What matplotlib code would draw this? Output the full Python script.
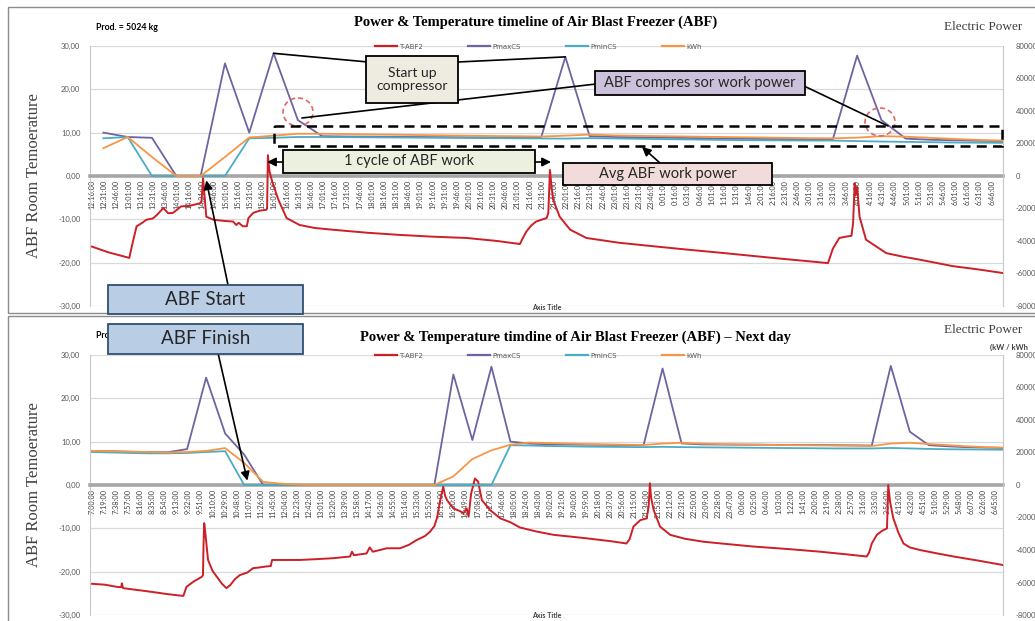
import matplotlib
matplotlib.use('Agg')
import matplotlib.pyplot as plt
from matplotlib.patches import Rectangle, Ellipse
from matplotlib.lines import Line2D

W, H = 1035, 621

# ---------- first day (top chart), time in minutes after 12:16 ----------
top_temp_min = [0, 20, 40, 46, 50, 55, 62, 67, 75, 80, 88, 94, 100, 110, 120, 133, 135, 137, 139,
                141, 150, 165, 174, 178, 181, 186, 191, 193, 199, 207, 215, 216, 217, 219, 223,
                230, 240, 256, 275, 297, 340, 380, 420, 462, 500, 528, 531, 536, 542, 548, 556,
                561, 563, 565, 567, 569, 577, 590, 610, 650, 692, 735, 775, 840, 880, 908, 911,
                914, 922, 930, 937, 939, 941, 942, 944, 947, 955, 980, 1000, 1021, 1062, 1095, 1124]
top_temp = [-16.3, -17.6, -18.6, -18.9, -15.5, -11.6, -10.8, -10.1, -9.8, -9.0, -7.4, -8.6, -8.5,
            -7.0, -6.9, -6.3, -6.0, -0.5, -5.0, -9.4, -10.1, -10.4, -10.5, -11.3, -10.8, -11.6,
            -11.6, -9.7, -8.5, -8.0, -7.8, -7.5, 4.8, 1.0, -1.7, -5.5, -9.7, -11.3, -12.0, -12.4,
            -13.1, -13.6, -14.0, -14.3, -15.0, -15.7, -14.5, -12.8, -11.4, -10.5, -10.0, -9.7,
            -8.5, 1.4, -2.5, -5.5, -9.4, -12.4, -14.3, -15.4, -16.2, -17.0, -17.7, -18.9, -19.6,
            -20.1, -18.5, -16.8, -14.3, -14.0, -13.8, -11.0, -1.7, -4.5, -2.5, -9.4, -14.7, -17.8,
            -18.6, -19.3, -20.8, -21.6, -22.4]
# half-hourly compressor readings (W), first at 12:30
top_pmax = [26700, 24000, 23500, 0, 0, 69300, 26700, 75500, 34400, 24500, 24300, 24200, 24100,
            24000, 23900, 23800, 23700, 23600, 23500, 73300, 24500, 24000, 23800, 23600, 23400,
            23200, 23000, 22800, 22700, 22600, 22500, 74100, 34400, 23000, 22300, 22000, 21700, 21500]
top_pmin = [23200, 24000, 0, 0, 0, 0, 23200, 23500, 24000, 24000, 23900, 23800, 23700, 23600,
            23500, 23400, 23300, 23200, 23100, 23000, 23300, 23100, 22900, 22700, 22500, 22300,
            22100, 22000, 21900, 21800, 21800, 21500, 21200, 21000, 20800, 20600, 20500, 20400]
top_kwh = [17100, 24000, 11700, 0, 0, 11700, 23700, 24800, 26000, 26000, 25800, 25600, 25400,
           25200, 25000, 24800, 24600, 24500, 24300, 24800, 25500, 25000, 24700, 24500, 24300,
           24100, 23900, 23700, 23500, 23300, 23200, 23600, 24500, 24200, 23500, 22800, 22200, 21800]

# ---------- next day (bottom chart), time in minutes after 7:00 ----------
bot_temp_min = [0, 20, 39, 46, 47, 49, 70, 91, 120, 144, 149, 160, 173, 175, 176, 177, 179, 183,
                190, 197, 205, 212, 218, 225, 233, 245, 254, 265, 275, 282, 284, 300, 328, 355,
                380, 407, 410, 413, 433, 438, 443, 465, 486, 500, 512, 525, 533, 540, 544, 550,
                554, 557, 560, 570, 580, 586, 591, 594, 598, 604, 609, 615, 628, 644, 660, 675,
                700, 728, 780, 820, 843, 848, 854, 865, 875, 878, 880, 882, 886, 896, 912, 935,
                965, 1000, 1043, 1100, 1149, 1190, 1222, 1226, 1230, 1238, 1246, 1254, 1256, 1259,
                1264, 1272, 1280, 1290, 1306, 1330, 1359, 1400, 1438]
bot_temp = [-22.8, -23.0, -23.5, -23.6, -22.7, -23.8, -24.2, -24.6, -25.2, -25.6, -23.5, -22.3,
            -21.2, -20.8, -13.1, -8.8, -11.5, -17.3, -19.8, -21.2, -22.8, -23.8, -23.1, -21.8,
            -20.8, -20.2, -19.2, -19.0, -18.8, -18.7, -17.3, -17.3, -17.3, -17.1, -16.9, -16.5,
            -15.4, -16.2, -15.8, -14.4, -15.4, -14.6, -14.6, -13.8, -12.7, -11.8, -10.8, -9.5,
            -7.7, -3.0, -0.4, -2.5, -3.5, -5.4, -6.0, -6.5, -5.4, -7.3, -2.0, 1.5, 0.8, -3.5,
            -5.8, -7.7, -8.6, -9.8, -10.7, -11.5, -12.3, -13.0, -13.5, -12.5, -9.6, -8.1, -7.7,
            -5.0, 0.4, -3.0, -5.8, -9.6, -11.5, -12.4, -13.1, -13.6, -14.2, -14.8, -15.4, -16.0,
            -16.5, -15.5, -13.5, -11.5, -10.6, -10.0, 0.0, -4.0, -7.7, -11.0, -13.5, -14.4,
            -15.0, -15.7, -16.5, -17.5, -18.5]
# half-hourly compressor readings (W), first at 7:00
bot_pmax = [20800, 20800, 20500, 20300, 20200, 22100, 66100, 31700, 18700, 0, 0, 0, 0, 0, 0, 0,
            0, 0, 0, 68000, 27700, 72800, 26700, 25500, 25000, 24900, 24800, 24700, 24600, 24500,
            71700, 25600, 25000, 24900, 24800, 24800, 24700, 24600, 24600, 24500, 24400, 24300,
            73300, 32800, 24500, 23800, 23300, 23000, 22800]
bot_pmin = [20300, 20000, 19700, 19500, 19500, 19700, 20300, 20800, 0, 0, 0, 0, 0, 0, 0, 0, 0,
            0, 0, 0, 0, 0, 24500, 24300, 24000, 23800, 23600, 23500, 23400, 23300, 23500, 23300,
            23200, 23100, 23000, 22900, 22800, 22700, 22600, 22500, 22500, 22500, 22800, 22500,
            22200, 22000, 21900, 21800, 21700]
bot_kwh = [21000, 20800, 20500, 20300, 20000, 20300, 21000, 22700, 13600, 1900, 800, 200, 0, 0,
           0, 0, 0, 0, 0, 5300, 16000, 21300, 24800, 26100, 25800, 25500, 25200, 25000, 24800,
           24600, 25500, 26000, 25500, 25200, 25000, 24800, 24600, 24500, 24400, 24300, 24200,
           24000, 25500, 26000, 25200, 24500, 23800, 23300, 23000]


def clock_labels(h0, m0, step, n):
    out = []
    for i in range(n):
        t = h0 * 60 + m0 + step * i
        out.append('%d:%02d:00' % ((t // 60) % 24, t % 60))
    return out

top_labels = clock_labels(12, 16, 15, 75)
bot_labels = clock_labels(7, 0, 19, 76)

C_T = '#cc1f27'
C_MAX = '#6f64a0'
C_MIN = '#4bacc6'
C_KWH = '#f79646'
GRID = '#d9d9d9'
TXT = '#595959'

fig = plt.figure(figsize=(W / 100, H / 100), dpi=100)


def px_axes(x0, y0, x1, y1):
    return fig.add_axes([x0 / W, 1 - y1 / H, (x1 - x0) / W, (y1 - y0) / H])


def make_panel(box, xlim, step, labels, tmin, temp, p0, pmax, pmin, kwh):
    ax = px_axes(*box)
    ax.set_xlim(*xlim)
    ax.set_ylim(-30, 30)
    ax.set_yticks(range(-30, 31, 10))
    ax.set_yticklabels(['%d,00' % v for v in range(-30, 31, 10)])
    ax.yaxis.grid(True, color=GRID, lw=0.9)
    ax.set_axisbelow(True)
    for s in ['top', 'right']:
        ax.spines[s].set_visible(False)
    ax.spines['left'].set_color('#c8c8c8')
    ax.spines['bottom'].set_position(('data', 0))
    ax.spines['bottom'].set_color('#a6a6a6')
    ax.spines['bottom'].set_linewidth(2.6)
    ax.set_xticks([step * i for i in range(len(labels))])
    ax.set_xticklabels(labels, rotation=90, fontsize=5.2, color='#404040', family='Lato')
    ax.tick_params(axis='x', length=0, pad=3)
    ax.tick_params(axis='y', length=0, labelsize=5.5, labelcolor=TXT, pad=7)
    for t in ax.get_yticklabels():
        t.set_family('Lato')
    ax.set_ylabel('ABF Room Temoerature', family='Liberation Serif', fontsize=12, color='#404040')
    ax.yaxis.set_label_coords(-48 / 913, 0.5)
    ax.plot(tmin, temp, color=C_T, lw=1.4, zorder=3, label='T-ABF2')

    axr = ax.twinx()
    axr.set_ylim(-80000, 80000)
    axr.set_yticks(range(-80000, 80001, 20000))
    axr.set_yticklabels([str(v) for v in range(-80000, 80001, 20000)], family='Lato')
    axr.tick_params(axis='y', length=0, labelsize=5.5, labelcolor=TXT, pad=9)
    for s in ['top', 'left', 'bottom']:
        axr.spines[s].set_visible(False)
    axr.spines['right'].set_color('#c8c8c8')
    px = [p0 + 30 * k for k in range(len(pmax))]
    axr.plot(px, pmax, color=C_MAX, lw=1.3, label='PmaxCS')
    axr.plot(px, pmin, color=C_MIN, lw=1.3, label='PminCS')
    axr.plot(px, kwh, color=C_KWH, lw=1.3, label='kWh')

    handles = [Line2D([], [], color=c, lw=1.6) for c in (C_T, C_MAX, C_MIN, C_KWH)]
    leg = axr.legend(handles, ['T-ABF2', 'PmaxCS', 'PminCS', 'kWh'], ncol=4, loc='upper left',
                     bbox_to_anchor=((372 - 90) / 913, 1.02), frameon=False, fontsize=5,
                     handlelength=3.2, handletextpad=0.3, columnspacing=6.5, borderaxespad=0)
    for t in leg.get_texts():
        t.set_color(TXT)
    return ax, axr


ax_t, axr_t = make_panel((90, 46, 1003, 306), (-2.5, 1124), 15, top_labels,
                         top_temp_min, top_temp, 14, top_pmax, top_pmin, top_kwh)
ax_b, axr_b = make_panel((90, 355, 1003, 615), (-3.2, 1437), 19, bot_labels,
                         bot_temp_min, bot_temp, 0, bot_pmax, bot_pmin, bot_kwh)

# ---------- overlay in pixel coordinates for titles and call-outs ----------
ov = fig.add_axes([0, 0, 1, 1], zorder=20)
ov.set_xlim(0, W)
ov.set_ylim(H, 0)
ov.axis('off')
ov.patch.set_alpha(0)

ov.add_patch(Rectangle((8, 7), 1040, 306, fill=False, ec='#8c8c8c', lw=1))
ov.add_patch(Rectangle((8, 316), 1040, 320, fill=False, ec='#8c8c8c', lw=1))

ov.text(96, 28, 'Prod. = 5024 kg', fontsize=6.3, weight='bold', family='Lato', va='center', zorder=1)
ov.text(96, 336, 'Prod. = 5024 kg', fontsize=6.3, weight='bold', family='Lato', va='center', zorder=1)
ov.text(536, 22, 'Power & Temperature timeline of Air Blast Freezer (ABF)', fontsize=10.5,
        weight='bold', family='Liberation Serif', ha='center', va='center')
ov.text(576, 337, 'Power & Temperature timdine of Air Blast Freezer (ABF) \u2013 Next day',
        fontsize=10.5, weight='bold', family='Liberation Serif', ha='center', va='center')
ov.text(944, 27, 'Electric Power', fontsize=9.5, family='Liberation Serif', color='#404040', va='center')
ov.text(944, 330, 'Electric Power', fontsize=9.5, family='Liberation Serif', color='#404040', va='center')
ov.text(990, 347, '(kW / kWh', fontsize=5.5, weight='bold', family='Lato', color='#404040', va='center')
ov.text(547, 308, 'Axis Title', fontsize=5, weight='bold', family='Lato', color='#404040', ha='center', va='center')
ov.text(547, 616, 'Axis Title', fontsize=5, weight='bold', family='Lato', color='#404040', ha='center', va='center')


def box(x0, y0, x1, y1, text, fc, fs, ec='black'):
    ov.add_patch(Rectangle((x0, y0), x1 - x0, y1 - y0, fc=fc, ec=ec, lw=1.3, zorder=5))
    ov.text((x0 + x1) / 2, (y0 + y1) / 2, text, ha='center', va='center', fontsize=fs,
            family='Lato', color='#262626', zorder=6, linespacing=1.15)


def link(xy, coords, xytext, arrow=False):
    ov.annotate('', xy=xy, xycoords=coords, xytext=xytext, textcoords='data',
                arrowprops=dict(arrowstyle='-|>' if arrow else '-', color='black', lw=1.2,
                                mutation_scale=13, shrinkA=0, shrinkB=0), zorder=3)


# start-up peaks and compressor work power
link((14 + 30 * 7, top_pmax[7]), axr_t.transData, (368, 62))
link((14 + 30 * 19, top_pmax[19]), axr_t.transData, (458, 62))
link((302, 118), 'data', (596, 84))
link((888, 126), 'data', (804, 86))
ov.add_patch(Ellipse((298, 112), 30, 28, fill=False, ec='#e06666', lw=1.2, ls=(0, (3, 2))))
ov.add_patch(Ellipse((880, 122), 30, 28, fill=False, ec='#e06666', lw=1.2, ls=(0, (3, 2))))
box(366, 56, 458, 103, 'Start up\ncompressor', '#eeece1', 10)
box(595, 71, 805, 95, 'ABF compres sor work power', '#ccc1da', 10.5)

# average work power band
ov.add_patch(Rectangle((274, 126), 728, 20, fill=False, ec='black', lw=1.8, ls=(0, (4, 2.5)), zorder=4))
link((642, 147), 'data', (660, 163), arrow=True)
box(563, 163, 772, 185, 'Avg ABF work power', '#f2dcdb', 10.5)

# one working cycle
box(283, 150, 535, 173, '1 cycle of ABF work', '#ebf1de', 10.5)
link((267, 162), 'data', (283, 162), arrow=True)
link((551, 162), 'data', (535, 162), arrow=True)

# start / finish call-outs
link((141, -1.0), ax_t.transData, (228, 285), arrow=True)
box(108, 285, 303, 314, 'ABF Start', '#b9cde5', 13.5, ec='#2f4f6f')
link((245, 1.0), ax_b.transData, (218, 353), arrow=True)
box(108, 324, 303, 354, 'ABF Finish', '#b9cde5', 13.5, ec='#2f4f6f')

fig.savefig('out.png', dpi=100)
